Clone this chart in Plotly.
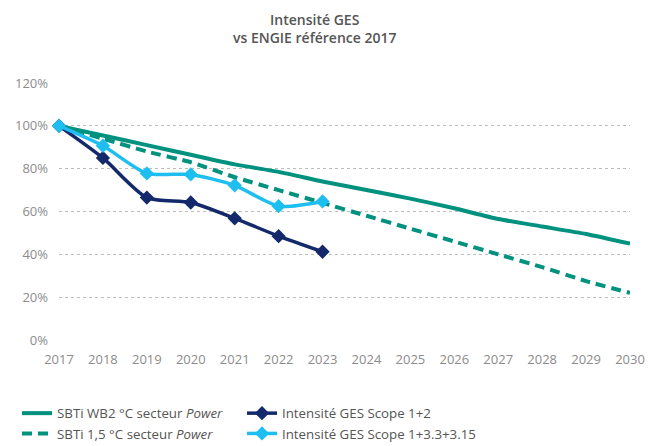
import plotly.graph_objects as go

years = list(range(2017, 2031))
years_hist = list(range(2017, 2024))

# SBTi pathways (index, 2017 = 100)
sbti_wb2 = [100, 95.5, 91, 86.5, 82, 78.5, 74, 70, 66, 61.5, 56.5, 53, 49.5, 45]
sbti_15 = [100, 94, 88, 83, 76, 70, 64, 58, 52, 46, 40, 34, 27.5, 22]

# ENGIE intensities (index, 2017 = 100)
scope_12 = [100, 85, 66.5, 64.2, 56.8, 48.5, 41.2]
scope_1_33_315 = [100, 90.7, 77.8, 77.3, 72.2, 62.5, 64.7]

y_ticks = [0, 20, 40, 60, 80, 100, 120]
y_labels = [f"{v}%" for v in y_ticks]

GREEN = "#00917f"
NAVY = "#13296b"
LIGHT = "#1ebff0"
GREY_TXT = "#8c8c8c"
FONT = "Open Sans"

fig = go.Figure()

fig.add_trace(go.Scatter(
    x=years, y=sbti_wb2, mode="lines", name="SBTi WB2 °C secteur <i>Power</i>",
    line=dict(color=GREEN, width=4, shape="spline", smoothing=0.5),
    legend="legend", cliponaxis=False,
))
fig.add_trace(go.Scatter(
    x=years, y=sbti_15, mode="lines", name="SBTi 1,5 °C secteur <i>Power</i>",
    line=dict(color=GREEN, width=4, dash="10px,6px", shape="spline", smoothing=0.5),
    legend="legend", cliponaxis=False,
))
fig.add_trace(go.Scatter(
    x=years_hist, y=scope_12, mode="lines+markers", name="Intensité GES Scope 1+2",
    line=dict(color=NAVY, width=3.5, shape="spline", smoothing=0.7),
    marker=dict(symbol="diamond", size=11, color=NAVY),
    legend="legend2", cliponaxis=False,
))
fig.add_trace(go.Scatter(
    x=years_hist, y=scope_1_33_315, mode="lines+markers", name="Intensité GES Scope 1+3.3+3.15",
    line=dict(color=LIGHT, width=3.5, shape="spline", smoothing=0.7),
    marker=dict(symbol="diamond", size=11, color=LIGHT),
    legend="legend2", cliponaxis=False,
))

legend_common = dict(
    orientation="v", xanchor="left", xref="container",
    y=1 - 398 / 446, yanchor="top", yref="container",
    itemwidth=30, traceorder="normal", tracegroupgap=0,
    font=dict(family=FONT, size=13.3, color="#555555"),
    bgcolor="rgba(0,0,0,0)",
)

fig.update_layout(
    width=653, height=446,
    margin=dict(l=59, r=23, t=83, b=106, autoexpand=False),
    paper_bgcolor="white", plot_bgcolor="white",
    font=dict(family=FONT, color=GREY_TXT, size=13),
    title=dict(
        text="Intensité GES<br>vs ENGIE référence 2017",
        x=0.482, xanchor="center", y=0.945, yanchor="top",
        font=dict(family=FONT, size=14, color="#555555", weight=600),
    ),
    xaxis=dict(
        range=[2017, 2030], tickmode="array", tickvals=years,
        ticktext=[str(y) for y in years],
        showgrid=False, zeroline=False, showline=False,
        ticks="", ticklabelstandoff=10,
        tickfont=dict(size=13, color=GREY_TXT),
    ),
    yaxis=dict(
        range=[0, 120], tickmode="array", tickvals=y_ticks, ticktext=y_labels,
        showgrid=True, gridcolor="#bdbdbd", griddash="dot", gridwidth=1,
        zeroline=False, showline=False, ticks="", ticklabelstandoff=10,
        tickfont=dict(size=13, color=GREY_TXT),
    ),
    legend=dict(legend_common, x=17 / 653),
    legend2=dict(legend_common, x=242 / 653),
    showlegend=True,
)

fig.write_html("out.html")
